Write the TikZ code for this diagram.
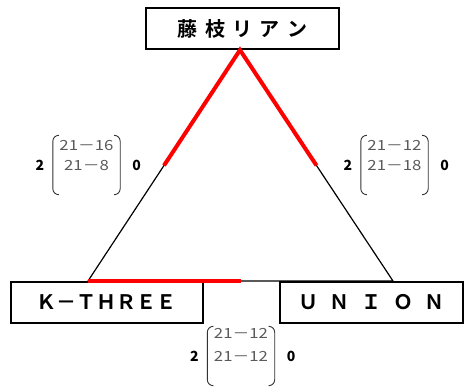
\documentclass[tikz,border=0pt]{standalone}
\usepackage{fontspec}
\setmainfont{Noto Sans CJK JP}
\newfontfamily\teamfont{Noto Sans CJK JP Bold}[WordSpace=1.8]
\newfontfamily\titlefont{Noto Sans CJK JP Bold}[WordSpace=1.6]
\newfontfamily\scorefont{Noto Sans CJK JP}[FakeStretch=1.2]
\usepackage{xcolor}
\usetikzlibrary{positioning,calc}
\definecolor{winred}{RGB}{255,0,0}
\definecolor{scoregray}{RGB}{90,90,90}

\begin{document}
\begin{tikzpicture}[x=1pt, y=-1pt,
    team/.style={draw, line width=2pt, minimum height=41pt, inner sep=0pt,
      font=\teamfont\fontsize{20}{24}\selectfont},
    score/.style={minimum width=67pt, minimum height=59pt, inner sep=0pt,
      align=center, text=scoregray},
    setnum/.style={inner sep=0pt, font=\bfseries\fontsize{14}{16}\selectfont},
    paren/.style={draw=black!80, line width=0.9pt, rounded corners=6pt},
    edge/.style={line width=1.2pt},
    won/.style={draw=winred, line width=4pt}]
  \useasboundingbox[fill=white] (0,0) rectangle (464,387);

  % teams
  \node[team, minimum width=193pt, font=\titlefont\fontsize{20}{24}\selectfont]
    (fujieda) at (242.5,28.5) {藤 枝 リ ア ン};
  \node[team, minimum width=192pt] (kthree) at (107,302.5) {Ｋ－ＴＨＲＥＥ};
  \node[team, minimum width=183pt] (union) at (371.5,302.5) {Ｕ Ｎ Ｉ Ｏ Ｎ};

  % triangle
  \coordinate (apex) at (240,50);
  \coordinate (vl) at (88,281);
  \coordinate (vr) at (393,281);
  \draw[edge] (apex) -- (vl) -- (vr) -- cycle;
  \draw[won] ($(apex)!0.5!(vl)$) -- (apex) -- ($(apex)!0.5!(vr)$);
  \draw[won] (vl) -- ($(vl)!0.5!(vr)$);

  % scores
  \foreach \nm/\cx/\cy/\ra/\rb/\gap in {sL/86.5/165/21－16/21－8/20,
      sR/394.5/165/21－12/21－18/20, sB/241/356/21－12/21－12/23}{
    \node[score, font=\scorefont\fontsize{14}{\gap}\selectfont] (\nm) at (\cx,\cy)
      {\ra\\\rb\\~};
    \draw[paren] ([xshift=5pt]\nm.north west) -- (\nm.north west)
      -- (\nm.south west) -- ([xshift=5pt]\nm.south west);
    \draw[paren] ([xshift=-5pt]\nm.north east) -- (\nm.north east)
      -- (\nm.south east) -- ([xshift=-5pt]\nm.south east);
    \node[setnum, left=8.5pt of \nm] (\nm-w) {2};
    \node[setnum, right=12pt of \nm] (\nm-l) {0};
  }
\end{tikzpicture}
\end{document}
